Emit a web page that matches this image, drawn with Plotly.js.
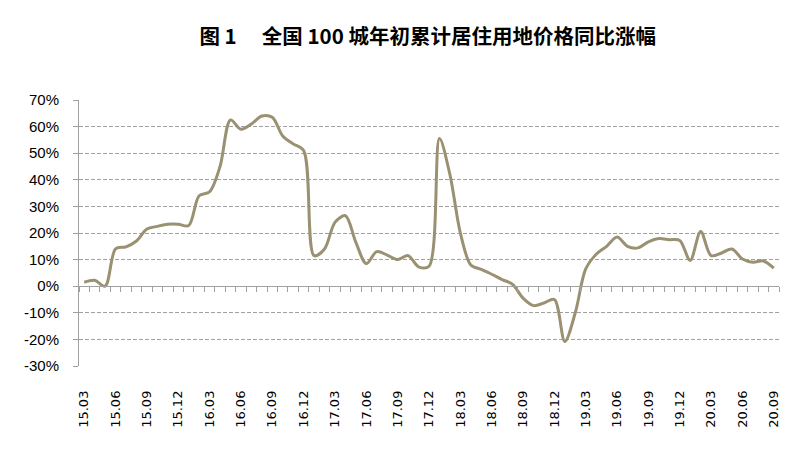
<!DOCTYPE html>
<html>
<head>
<meta charset="utf-8">
<script src="https://cdn.plot.ly/plotly-3.0.1.min.js"></script>
<style>html,body{margin:0;padding:0;background:#fff;}</style>
</head>
<body>
<div id="chart" style="width:810px;height:454px;"></div>
<script>
const months = [
  '15.03','15.04','15.05','15.06','15.07','15.08','15.09','15.10','15.11','15.12',
  '16.01','16.02','16.03','16.04','16.05','16.06','16.07','16.08','16.09','16.10','16.11','16.12',
  '17.01','17.02','17.03','17.04','17.05','17.06','17.07','17.08','17.09','17.10','17.11','17.12',
  '18.01','18.02','18.03','18.04','18.05','18.06','18.07','18.08','18.09','18.10','18.11','18.12',
  '19.01','19.02','19.03','19.04','19.05','19.06','19.07','19.08','19.09','19.10','19.11','19.12',
  '20.01','20.02','20.03','20.04','20.05','20.06','20.07','20.08','20.09'
];
const growth = [
  1.5, 2.2, 0.0, 14.0, 14.8, 17.0, 21.5, 22.5, 23.3, 23.3,
  22.8, 34.0, 35.5, 45.0, 62.5, 59.0, 61.0, 64.0, 63.5, 56.5, 53.5, 51.0,
  11.5, 14.0, 24.0, 26.5, 16.5, 8.5, 13.0, 11.7, 10.0, 11.5, 7.3, 7.5,
  55.5, 42.0, 20.0, 8.0, 6.3, 4.5, 2.5, 0.7, -4.5, -7.3, -6.3, -5.0,
  -20.8, -10.0, 6.5, 12.0, 15.0, 18.5, 15.0, 14.4, 16.7, 17.9, 17.5, 17.2,
  9.7, 20.6, 11.5, 12.5, 14.0, 10.2, 9.0, 9.5, 6.8
];
const xTickLabels = months.filter((m, i) => i % 3 === 0);
const yTickLabels = ['-30%','-20%','-10%','0%','10%','20%','30%','40%','50%','60%','70%'];
const yTickVals = yTickLabels.map(s => parseFloat(s));
const idx = months.map((m, i) => i);

const lineColor = '#9A9072';
const axisGray = '#A0A0A0';

const traces = [
  {
    x: idx, y: growth, type: 'scatter', mode: 'lines',
    line: {color: lineColor, width: 3, shape: 'spline', smoothing: 0.9},
    hoverinfo: 'skip', xaxis: 'x', yaxis: 'y'
  },
  {
    x: idx, y: growth, type: 'scatter', mode: 'lines',
    line: {color: 'rgba(0,0,0,0)', width: 0},
    hoverinfo: 'skip', xaxis: 'x2', yaxis: 'y', showlegend: false
  }
];

const layout = {
  width: 810, height: 454,
  margin: {l: 79, r: 31, t: 100, b: 88},
  paper_bgcolor: '#ffffff', plot_bgcolor: '#ffffff',
  showlegend: false,
  title: {
    text: '图 1　 全国 100 城年初累计居住用地价格同比涨幅',
    font: {family: '"Noto Sans CJK SC", sans-serif', size: 20.5, color: '#000000', weight: 700},
    x: 0.528, xanchor: 'center', xref: 'container',
    y: 0.918, yanchor: 'middle', yref: 'container'
  },
  xaxis: {
    range: [-0.5, idx.length - 0.5],
    tickmode: 'array',
    tickvals: idx.filter(i => i % 3 === 0),
    ticktext: xTickLabels,
    tickangle: -90,
    ticks: '',
    ticklabelstandoff: 21,
    showline: false, showgrid: false, zeroline: false,
    tickfont: {family: '"DejaVu Sans", sans-serif', size: 13, color: '#000000'}
  },
  xaxis2: {
    overlaying: 'x', anchor: 'free', position: 0.3,
    range: [-0.5, idx.length - 0.5],
    tickmode: 'linear', tick0: -0.5, dtick: 1,
    ticks: 'outside', ticklen: 5, tickcolor: axisGray, tickwidth: 1,
    showticklabels: false,
    showline: true, linecolor: axisGray, linewidth: 1,
    showgrid: false, zeroline: false
  },
  yaxis: {
    range: [-30, 70],
    tickmode: 'array', tickvals: yTickVals, ticktext: yTickLabels,
    ticks: 'outside', ticklen: 5, tickcolor: axisGray, tickwidth: 1,
    ticklabelstandoff: 11,
    showline: true, linecolor: axisGray, linewidth: 1,
    showgrid: true, gridcolor: axisGray, gridwidth: 1, griddash: '4px,2px',
    zeroline: false,
    tickfont: {family: '"Liberation Sans", Arial, sans-serif', size: 15, color: '#000000'}
  }
};

Plotly.newPlot('chart', traces, layout, {staticPlot: true, displayModeBar: false});
</script>
</body>
</html>
